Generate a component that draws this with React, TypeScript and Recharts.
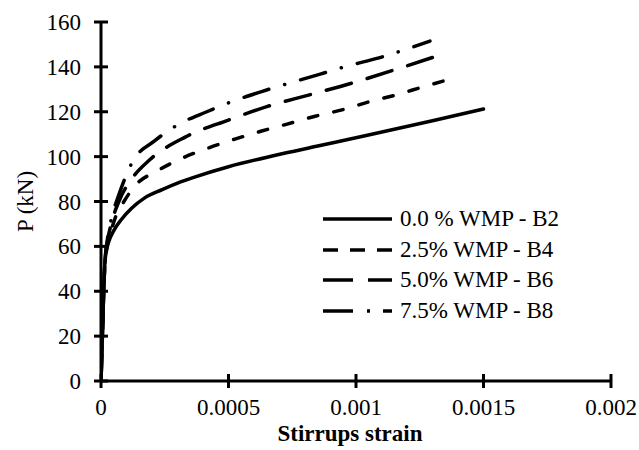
import { LineChart, Line, XAxis, YAxis } from 'recharts';

const FONT = '"Liberation Serif", "Times New Roman", Times, serif';

// axis ticks
const xTicks = [0, 0.0005, 0.001, 0.0015, 0.002];
const yTicks = [0, 20, 40, 60, 80, 100, 120, 140, 160];

// 0.0 % WMP - B2
const b2Strain = [0, 0.000005, 0.00001, 0.000015, 0.00002, 0.00003, 0.00005, 0.00008, 0.00012, 0.00017, 0.00024, 0.0003, 0.00037, 0.0005, 0.00068, 0.00085, 0.00104, 0.0013, 0.0015];
const b2Load = [0, 18, 38, 52, 58, 62, 67, 72, 77, 81.5, 85.3, 88.2, 91, 95.5, 100.5, 104.7, 109.4, 116, 121.2];

// 2.5% WMP - B4
const b4Strain = [0, 0.000005, 0.00001, 0.000015, 0.000025, 0.00004, 0.00006, 0.00009, 0.000133, 0.00022, 0.00032, 0.00042, 0.000525, 0.00063, 0.00073, 0.00084, 0.00095, 0.00105, 0.00116, 0.00126, 0.0014];
const b4Load = [0, 18, 38, 52, 60, 67, 74, 80, 87, 93.6, 99.4, 103.8, 107.8, 111.4, 114.5, 118, 121, 124.4, 127.6, 131, 135.5];

// 5.0% WMP - B6
const b6Strain = [0, 0.000005, 0.00001, 0.000015, 0.000025, 0.00004, 0.00007, 0.00012, 0.00019, 0.00033, 0.0005, 0.00065, 0.00083, 0.00099, 0.00116, 0.0013];
const b6Load = [0, 18, 38, 52, 62, 70, 80, 90, 98.5, 108.7, 116.3, 122.3, 127.9, 133, 139, 144.2];

// 7.5% WMP - B8
const b8Strain = [0, 0.000005, 0.00001, 0.000015, 0.000025, 0.00004, 0.00007, 0.000125, 0.00021, 0.000306, 0.000415, 0.00052, 0.00063, 0.00086, 0.00097, 0.00109, 0.0012, 0.00129];
const b8Load = [0, 18, 38, 52, 63, 72, 83, 98, 107, 114.5, 120, 124.8, 129, 136.8, 140.5, 144, 148, 151.5];

const seriesNames = ['0.0 % WMP - B2', '2.5% WMP - B4', '5.0% WMP - B6', '7.5% WMP - B8'];

const toPoints = (strain: number[], load: number[]) => strain.map((s, i) => ({ strain: s, load: load[i] }));

const series = [
  { name: seriesNames[0], data: toPoints(b2Strain, b2Load), dash: undefined, legendDash: undefined },
  { name: seriesNames[1], data: toPoints(b4Strain, b4Load), dash: '9.5 16.5', legendDash: '15 12' },
  { name: seriesNames[2], data: toPoints(b6Strain, b6Load), dash: '26 16.5', legendDash: '30 15' },
  { name: seriesNames[3], data: toPoints(b8Strain, b8Load), dash: '26 16.5 0.1 16.5', legendDash: '30 14 3 13' },
];

const X_MARGIN = 10;
const Y_MARGIN = 20;

// ticks cross the axis line on both sides
function XTick(props: any) {
  const { x, y, payload } = props;
  const axisY = y - X_MARGIN;
  return (
    <g>
      <line x1={x} x2={x} y1={axisY - 7} y2={axisY + 7} stroke="#000" strokeWidth={3} />
      <text x={x} y={axisY + 34} textAnchor="middle" fontSize={23} fontFamily={FONT} fill="#000">
        {String(payload.value)}
      </text>
    </g>
  );
}

function YTick(props: any) {
  const { x, y, payload } = props;
  const axisX = x + Y_MARGIN;
  return (
    <g>
      <line x1={axisX - 7} x2={axisX + 7} y1={y} y2={y} stroke="#000" strokeWidth={3} />
      <text x={x} y={y + 8} textAnchor="end" fontSize={23} fontFamily={FONT} fill="#000">
        {payload.value}
      </text>
    </g>
  );
}

function XTitle(props: any) {
  const vb = props.viewBox;
  return (
    <text x={vb.x + vb.width / 2 - 6} y={vb.y + 60} textAnchor="middle" fontSize={23} fontWeight="bold" fontFamily={FONT} fill="#000">
      Stirrups strain
    </text>
  );
}

function YTitle(props: any) {
  const vb = props.viewBox;
  const cx = 25;
  const cy = vb.y + vb.height / 2;
  return (
    <text x={cx} y={cy} dy="0.35em" textAnchor="middle" transform={`rotate(-90 ${cx} ${cy})`} fontSize={23} fontFamily={FONT} fill="#000">
      P (kN)
    </text>
  );
}

function LegendBox() {
  return (
    <div style={{ position: 'absolute', left: 323, top: 204, fontFamily: FONT, fontSize: 23, color: '#000' }}>
      {series.map((s) => (
        <div key={s.name} style={{ display: 'flex', alignItems: 'center', height: 30.5 }}>
          <svg width={69} height={10} style={{ display: 'block' }}>
            <line x1={0} x2={69} y1={5} y2={5} stroke="#000" strokeWidth={3.5} strokeDasharray={s.legendDash} />
          </svg>
          <span style={{ marginLeft: 8, whiteSpace: 'nowrap', lineHeight: '30.5px' }}>{s.name}</span>
        </div>
      ))}
    </div>
  );
}

export default function App() {
  return (
    <div style={{ position: 'absolute', left: 0, top: 0, width: 639, height: 450, background: '#fff' }}>
      <LineChart width={639} height={450} margin={{ top: 22, right: 28, bottom: 29, left: 31 }}>
        <XAxis
          type="number"
          dataKey="strain"
          domain={[0, 0.002]}
          ticks={xTicks}
          allowDataOverflow
          height={40}
          tickSize={0}
          tickMargin={X_MARGIN}
          tickLine={false}
          tick={<XTick />}
          axisLine={{ stroke: '#000', strokeWidth: 3 }}
          label={<XTitle />}
        />
        <YAxis
          type="number"
          dataKey="load"
          domain={[0, 160]}
          ticks={yTicks}
          width={70}
          tickSize={0}
          tickMargin={Y_MARGIN}
          tickLine={false}
          tick={<YTick />}
          axisLine={{ stroke: '#000', strokeWidth: 3 }}
          label={<YTitle />}
        />
        {series.map((s) => (
          <Line
            key={s.name}
            name={s.name}
            data={s.data}
            dataKey="load"
            type="monotone"
            stroke="#000"
            strokeWidth={3.5}
            strokeDasharray={s.dash}
            strokeLinecap="round"
            dot={false}
            activeDot={false}
            isAnimationActive={false}
          />
        ))}
      </LineChart>
      <LegendBox />
    </div>
  );
}
